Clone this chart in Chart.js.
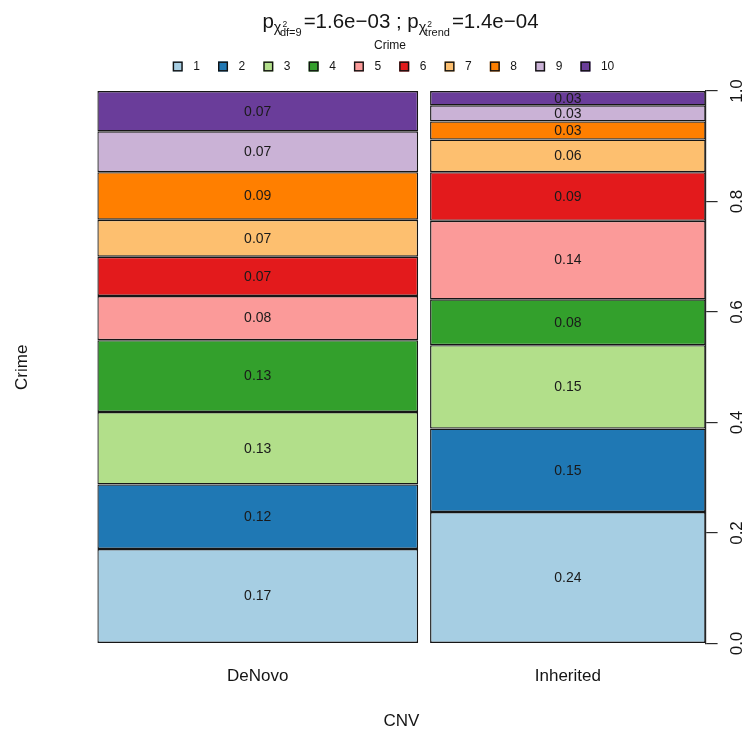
<!DOCTYPE html>
<html lang="en">
<head>
<meta charset="utf-8">
<title>Crime by CNV</title>
<script src="https://cdn.jsdelivr.net/npm/chart.js@4.4.1/dist/chart.umd.min.js"></script>
<style>
  html, body { margin: 0; padding: 0; background: #ffffff; }
  #box { width: 751px; height: 733px; }
</style>
</head>
<body>
<div id="box"><canvas id="mosaic" width="751" height="733"></canvas></div>
<script>
// CNV groups along x; each column's width is the group's share of all CNVs
const cnvGroups = ['DeNovo', 'Inherited'];
const groupShare = [0.538, 0.462];

// Crime levels, stacked from 1 (bottom) to 10 (top)
const crimeLevels = ['1', '2', '3', '4', '5', '6', '7', '8', '9', '10'];
const deNovoShare = [0.171, 0.117, 0.131, 0.130, 0.080, 0.071, 0.067, 0.086, 0.074, 0.073];
const inheritedShare = [0.238, 0.151, 0.151, 0.083, 0.142, 0.088, 0.059, 0.033, 0.029, 0.026];

const yTickValues = [0, 0.2, 0.4, 0.6, 0.8, 1.0];

// Test results shown in the heading
const chisqDf = 9;
const pChisq = '1.6e\u221203';
const pTrend = '1.4e\u221204';

const crimeColors = ['#A6CEE3', '#1F78B4', '#B2DF8A', '#33A02C', '#FB9A99',
                     '#E31A1C', '#FDBF6F', '#FF7F00', '#CAB2D6', '#6A3D9A'];

const GAP = 0.02;   // space between columns, in share units
const FONT = '"Liberation Sans", Arial, Helvetica, sans-serif';
const INK = '#151515';

Chart.defaults.font.family = FONT;
Chart.defaults.color = INK;

const groupValues = [deNovoShare, inheritedShare];
const centers = [];
let run = 0;
groupShare.forEach(w => { centers.push(run + w / 2); run += w + GAP; });
const xMax = run - GAP;
const pitch = centers[1] - centers[0];

// one dataset per (crime level, CNV group) so each column gets its own width
const datasets = [];
crimeLevels.forEach((lev, i) => {
  cnvGroups.forEach((grp, g) => {
    datasets.push({
      label: lev,
      cnv: grp,
      data: [{ x: centers[g], y: groupValues[g][i] }],
      backgroundColor: crimeColors[i],
      borderColor: '#161616',
      borderWidth: 1.4,
      borderSkipped: false,
      inflateAmount: 0,
      barPercentage: groupShare[g] / pitch,
      categoryPercentage: 1,
      stack: 'mosaic',
      xAxisID: 'x',
      yAxisID: 'y'
    });
  });
});

// value printed in the middle of every tile
const tileLabels = {
  id: 'tileLabels',
  afterDatasetsDraw(chart) {
    const ctx = chart.ctx;
    ctx.save();
    ctx.font = '14px ' + FONT;
    ctx.fillStyle = '#1a1a1a';
    ctx.textAlign = 'center';
    ctx.textBaseline = 'middle';
    chart.data.datasets.forEach((ds, i) => {
      const el = chart.getDatasetMeta(i).data[0];
      if (!el) return;
      ctx.fillText(ds.data[0].y.toFixed(2), el.x, (el.y + el.base) / 2 + 0.5);
    });
    ctx.restore();
  }
};

// heading with chi-square notation, plus the Crime key
const heading = {
  id: 'heading',
  afterDraw(chart) {
    const ctx = chart.ctx;
    const f = s => s + 'px ' + FONT;
    const widthOf = (t, s) => { ctx.font = f(s); return ctx.measureText(t).width; };
    ctx.save();
    ctx.fillStyle = INK;

    const big = 20.5, chiSize = 14.4, supSize = 8.5, subSize = 11;
    const base = 27.5;
    const parts = [
      { type: 'text', text: 'p' },
      { type: 'chi', sub: 'df=' + chisqDf },
      { type: 'text', text: '=' + pChisq + ' ; p' },
      { type: 'chi', sub: 'trend' },
      { type: 'text', text: '=' + pTrend }
    ];
    const chiW = () => widthOf('\u03c7', chiSize);
    const partWidth = p => p.type === 'text'
      ? widthOf(p.text, big)
      : chiW() + Math.max(widthOf('2', supSize) + 1, widthOf(p.sub, subSize) - 1.5) + 2;
    const total = parts.reduce((s, p) => s + partWidth(p), 0);
    let x = 400.5 - total / 2;
    ctx.textAlign = 'left';
    ctx.textBaseline = 'alphabetic';
    parts.forEach(p => {
      if (p.type === 'text') {
        ctx.font = f(big);
        ctx.fillText(p.text, x, base);
      } else {
        const cw = chiW();
        ctx.font = f(chiSize);
        ctx.fillText('\u03c7', x, base + 4.5);
        ctx.font = f(supSize);
        ctx.fillText('2', x + cw + 1, base - 0.5);
        ctx.font = f(subSize);
        ctx.fillText(p.sub, x + cw - 1.5, base + 8);
      }
      x += partWidth(p);
    });

    // key caption
    ctx.font = f(12);
    ctx.textAlign = 'center';
    ctx.textBaseline = 'middle';
    ctx.fillText('Crime', 390, 46);

    // key entries
    const step = 45.3, box = 10, textOff = 20.5, ky = 66.5;
    ctx.font = f(12);
    const lastW = ctx.measureText(crimeLevels[crimeLevels.length - 1]).width;
    const extent = (crimeLevels.length - 1) * step + textOff + lastW;
    const x0 = 393.5 - extent / 2;
    ctx.textAlign = 'left';
    crimeLevels.forEach((lev, i) => {
      const bx = x0 + i * step;
      ctx.fillStyle = crimeColors[i];
      ctx.fillRect(bx, ky - box / 2, box, box);
      ctx.strokeStyle = '#111';
      ctx.lineWidth = 1.4;
      ctx.strokeRect(bx + 0.7, ky - box / 2 + 0.7, box - 1.4, box - 1.4);
      ctx.fillStyle = INK;
      ctx.fillText(lev, bx + textOff, ky);
    });
    ctx.restore();
  }
};

new Chart(document.getElementById('mosaic'), {
  type: 'bar',
  data: { datasets },
  options: {
    responsive: false,
    animation: false,
    devicePixelRatio: 1,
    layout: { padding: { top: 91, right: 0, bottom: 0, left: 0 } },
    plugins: {
      legend: { display: false },
      tooltip: { enabled: false },
      title: { display: false }
    },
    scales: {
      x: {
        type: 'linear',
        position: 'bottom',
        offset: false,
        min: 0,
        max: xMax,
        afterBuildTicks: axis => { axis.ticks = centers.map(v => ({ value: v })); },
        ticks: {
          autoSkip: false,
          maxRotation: 0,
          padding: 23,
          font: { size: 17 },
          color: INK,
          callback: (v, i) => cnvGroups[i]
        },
        grid: { display: false, drawTicks: false, offset: false },
        border: { display: false },
        title: { display: true, text: 'CNV', font: { size: 17 }, color: INK, padding: { top: 1.7, bottom: 1 } }
      },
      y: {
        type: 'linear',
        position: 'right',
        stacked: true,
        min: 0,
        max: 1,
        afterBuildTicks: axis => { axis.ticks = yTickValues.map(v => ({ value: v })); },
        ticks: {
          autoSkip: false,
          minRotation: 90,
          maxRotation: 90,
          crossAlign: 'center',
          padding: 8.2,
          font: { size: 17, lineHeight: 1 },
          color: INK,
          callback: v => v.toFixed(1)
        },
        grid: { display: true, drawOnChartArea: false, drawTicks: true, tickLength: 12, color: '#2a2a2a', lineWidth: 1.2 },
        border: { display: true, color: '#2a2a2a', width: 1.2 }
      },
      yl: {
        type: 'linear',
        position: 'left',
        display: true,
        ticks: { display: false },
        grid: { display: false, drawTicks: false },
        border: { display: false },
        title: { display: true, text: 'Crime', font: { size: 17 }, color: INK, padding: { top: 12.3, bottom: 64.6 } }
      }
    }
  },
  plugins: [tileLabels, heading]
});
</script>
</body>
</html>
